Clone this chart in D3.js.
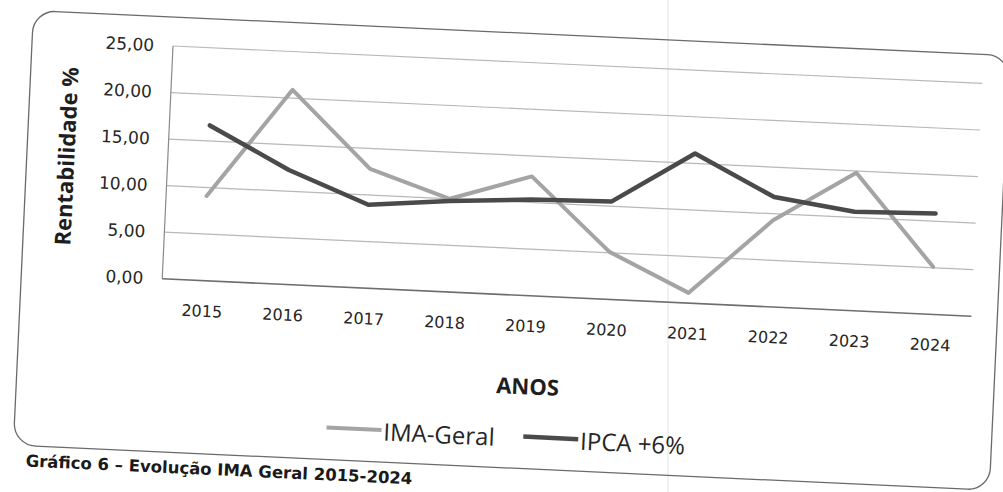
<!DOCTYPE html>
<html>
<head>
<meta charset="utf-8">
<script src="https://cdn.jsdelivr.net/npm/d3@7"></script>
<style>
  html, body { margin: 0; padding: 0; background: #fff; }
  svg { display: block; }
</style>
</head>
<body>
<svg id="chart" width="1003" height="492"></svg>
<script>
const years = ["2015","2016","2017","2018","2019","2020","2021","2022","2023","2024"];
const imaGeral = [9.1, 20.9, 12.8, 10.0, 12.8, 5.1, 1.1, 9.3, 14.8, 5.1];
const ipca6 = [16.67, 12.29, 8.95, 9.75, 10.31, 10.52, 16.06, 11.79, 10.62, 10.83];
const yTicks = [0, 5, 10, 15, 20, 25];
const yTickLabels = ["0,00", "5,00", "10,00", "15,00", "20,00", "25,00"];
const seriesNames = ["IMA-Geral", "IPCA +6%"];

const W = 810, H = 233;
const svg = d3.select("#chart");

// scan artifact (fold line)
svg.append("line").attr("x1", 668).attr("x2", 668).attr("y1", 0).attr("y2", 492)
  .attr("stroke", "#ececec").attr("stroke-width", 1.5);

const g = svg.append("g").attr("transform", "translate(173,46) rotate(2.65)");

// frame
g.append("rect").attr("x", -141).attr("y", -29).attr("width", 977).attr("height", 435)
  .attr("rx", 22).attr("ry", 22).attr("fill", "none").attr("stroke", "#6a6a6a").attr("stroke-width", 1.3);

const x = d3.scalePoint().domain(years).range([0, W]).padding(0.5);
const y = d3.scaleLinear().domain([0, 25]).range([H, 0]);

// gridlines
g.append("g").selectAll("line").data(yTicks.filter(d => d > 0)).join("line")
  .attr("x1", 0).attr("x2", W).attr("y1", d => y(d)).attr("y2", d => y(d))
  .attr("stroke", "#b8b8b8").attr("stroke-width", 1.2);

// axes lines
g.append("line").attr("x1", 0).attr("x2", 0).attr("y1", 0).attr("y2", H)
  .attr("stroke", "#8a8a8a").attr("stroke-width", 1.2);
g.append("line").attr("x1", 0).attr("x2", W).attr("y1", H).attr("y2", H)
  .attr("stroke", "#6e6e6e").attr("stroke-width", 1.6);

// y axis labels
const yAxis = d3.axisLeft(y).tickValues(yTicks).tickSize(0).tickPadding(19)
  .tickFormat((d, i) => yTickLabels[i]);
const ya = g.append("g").call(yAxis);
ya.select(".domain").remove();
ya.selectAll("text").attr("font-family", "DejaVu Sans").attr("font-size", 17).attr("fill", "#262626");

// x axis labels
const xAxis = d3.axisBottom(x).tickSize(0).tickPadding(0);
const xa = g.append("g").attr("transform", `translate(0,${H})`).call(xAxis);
xa.select(".domain").remove();
xa.selectAll("text").attr("font-family", "DejaVu Sans").attr("font-size", 16).attr("fill", "#262626")
  .attr("y", 30.5).attr("dy", "0.35em");

// axis titles
g.append("text").attr("transform", "translate(-101,115) rotate(-90)")
  .attr("text-anchor", "middle").attr("dy", "0.35em")
  .attr("font-family", "Open Sans").attr("font-weight", "bold").attr("font-size", 22)
  .attr("fill", "#1e1e1e").text("Rentabilidade %");
g.append("text").attr("x", 370).attr("y", 324).attr("dy", "0.35em").attr("text-anchor", "middle")
  .attr("font-family", "Open Sans").attr("font-weight", "bold").attr("font-size", 22)
  .attr("fill", "#1e1e1e").text("ANOS");

// lines
const line = d3.line().x((d, i) => x(years[i])).y(d => y(d)).curve(d3.curveLinear);
g.append("path").datum(imaGeral).attr("d", line).attr("fill", "none")
  .attr("stroke", "#a4a4a4").attr("stroke-width", 4).attr("stroke-linejoin", "round").attr("stroke-linecap", "round");
g.append("path").datum(ipca6).attr("d", line).attr("fill", "none")
  .attr("stroke", "#4a4a4a").attr("stroke-width", 4.5).attr("stroke-linejoin", "round").attr("stroke-linecap", "round");

// legend
const legend = [
  { name: seriesNames[0], color: "#a4a4a4", w: 4, x0: 171 },
  { name: seriesNames[1], color: "#4a4a4a", w: 4.5, x0: 368 }
];
legend.forEach(l => {
  g.append("line").attr("x1", l.x0).attr("x2", l.x0 + 55).attr("y1", 374).attr("y2", 374)
    .attr("stroke", l.color).attr("stroke-width", l.w);
  g.append("text").attr("x", l.x0 + 57).attr("y", 376).attr("dy", "0.35em")
    .attr("font-family", "Open Sans").attr("font-size", 24).attr("fill", "#262626").text(l.name);
});

// caption
g.append("text").attr("x", -128).attr("y", 421).attr("dy", "0.35em")
  .attr("font-family", "DejaVu Sans").attr("font-weight", "bold").attr("font-size", 16.5)
  .attr("fill", "#1a1a1a").text("Gráfico 6 – Evolução IMA Geral 2015-2024");
</script>
</body>
</html>
